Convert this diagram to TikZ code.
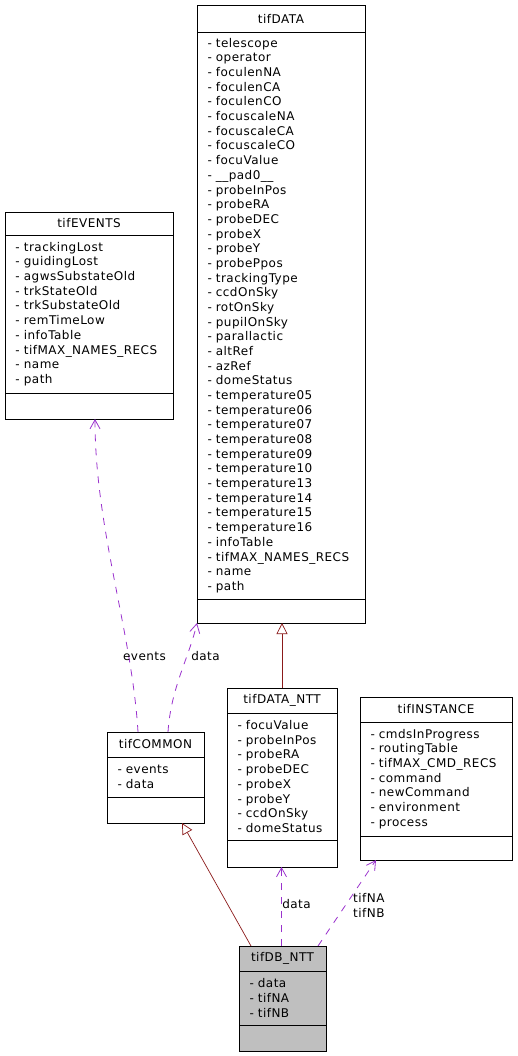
\documentclass[tikz,border=0pt]{standalone}
\usepackage{fontspec}
\setmainfont{DejaVu Sans}[LetterSpace=4]
\usetikzlibrary{arrows.meta,calc}
\definecolor{usecol}{HTML}{9A32CD}
\definecolor{inhcol}{HTML}{8B1A1A}
\definecolor{dbgray}{HTML}{BFBFBF}
\newcommand\clsfont{\fontsize{12}{14.68}\selectfont}
\newcommand\umlcls[9]{%
  \pgfmathsetmacro\umltw{#4-21}%
  \pgfmathsetmacro\umlha{#6-#5}%
  \pgfmathsetmacro\umlht{#5-#3}%
  \pgfmathsetmacro\umlhm{#7-#6}%
  \node[titlebox, minimum width=#4pt, minimum height=\umlht pt] (#1T) at (#2,#3) {#8};
  \node[attrbox, minimum width=#4pt, text width=\umltw pt, minimum height=\umlha pt] (#1A) at (#2,#5) {#9};
  \node[titlebox, minimum width=#4pt, minimum height=\umlhm pt] (#1M) at (#2,#6) {};
}
\begin{document}
\begin{tikzpicture}[x=1pt,y=-1pt,
  box/.style={draw=black, line width=0.8pt, anchor=north west, inner ysep=0pt, outer sep=0pt, font=\clsfont},
  titlebox/.style={box, align=center, inner xsep=0pt},
  attrbox/.style={box, align=left, inner xsep=10.5pt},
  uses/.style={draw=usecol, line width=0.8pt, dash pattern=on 7pt off 7pt, -{Straight Barb[length=9pt,width=10pt]}},
  inherits/.style={draw=inhcol, line width=0.7pt, -{Triangle[open, length=11pt, width=11pt, fill=white]}},
  elabel/.style={font=\clsfont, align=left, inner sep=0pt}]
\useasboundingbox (0,0) rectangle (517,1056);

\umlcls{data}{197}{5}{168}{32}{599}{623}{tifDATA}{%
- telescope\\- operator\\- foculenNA\\- foculenCA\\- foculenCO\\- focuscaleNA\\- focuscaleCA\\- focuscaleCO\\- focuValue\\- \_\_pad0\_\_\\- probeInPos\\- probeRA\\- probeDEC\\- probeX\\- probeY\\- probePpos\\- trackingType\\- ccdOnSky\\- rotOnSky\\- pupilOnSky\\- parallactic\\- altRef\\- azRef\\- domeStatus\\- temperature05\\- temperature06\\- temperature07\\- temperature08\\- temperature09\\- temperature10\\- temperature13\\- temperature14\\- temperature15\\- temperature16\\- infoTable\\- tifMAX\_NAMES\_RECS\\- name\\- path}

\umlcls{ev}{5}{212}{168}{235}{393}{419}{tifEVENTS}{%
- trackingLost\\- guidingLost\\- agwsSubstateOld\\- trkStateOld\\- trkSubstateOld\\- remTimeLow\\- infoTable\\- tifMAX\_NAMES\_RECS\\- name\\- path}

\umlcls{com}{107}{732}{97}{757}{797}{823}{tifCOMMON}{%
- events\\- data}

\umlcls{nt}{227}{688}{110}{713}{840}{867}{tifDATA\_NTT}{%
- focuValue\\- probeInPos\\- probeRA\\- probeDEC\\- probeX\\- probeY\\- ccdOnSky\\- domeStatus}

\umlcls{in}{360}{697}{152}{722}{836}{860}{tifINSTANCE}{%
- cmdsInProgress\\- routingTable\\- tifMAX\_CMD\_RECS\\- command\\- newCommand\\- environment\\- process}

\begin{scope}[every node/.append style={fill=dbgray}]
\umlcls{db}{239}{946}{87}{971}{1025}{1051}{tifDB\_NTT}{%
- data\\- tifNA\\- tifNB}
\end{scope}

% connectors
\draw[uses] ([xshift=-17.5pt]comT.north) .. controls +(-6,-100) and +(0,110) .. ([xshift=6pt]evM.south);
\draw[uses] ([xshift=12.5pt]comT.north) .. controls +(3,-45) and +(-8,35) .. (dataM.south west);
\draw[inherits] (ntT.north) -- (ntT.north |- dataM.south);
\draw[inherits] ([xshift=-31.5pt]dbT.north) -- ([xshift=26.5pt]comM.south);
\draw[uses] ([xshift=-1pt]dbT.north) -- ([xshift=-1pt]dbT.north |- ntM.south);
\draw[uses] ([xshift=35.5pt]dbT.north) -- ([xshift=-60pt]inM.south);

\node[elabel] (lev) at (144.5,656) {events};
\node[elabel] (ldata1) at (205.5,656) {data};
\node[elabel] (ldata2) at (296.5,904) {data};
\node[elabel, anchor=west] (ltif) at (353,905.5) {tifNA\\tifNB};
\end{tikzpicture}
\end{document}
